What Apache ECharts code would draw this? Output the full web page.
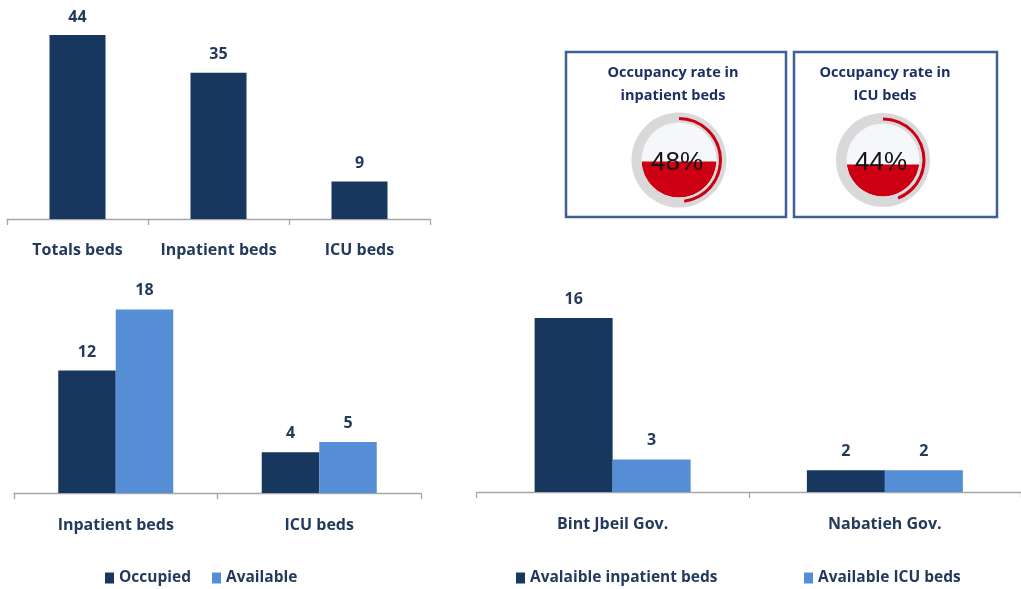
<!DOCTYPE html>
<html>
<head>
<meta charset="utf-8">
<script src="https://cdn.jsdelivr.net/npm/echarts@6/dist/echarts.min.js"></script>
<style>
html,body{margin:0;padding:0;background:#fff;}
#c{width:1021px;height:589px;}
</style>
</head>
<body>
<div id="c"></div>
<script>
// ---- data ----
var totalCategories = ['Totals beds', 'Inpatient beds', 'ICU beds'];
var totalValues = [44, 35, 9];

var statusCategories = ['Inpatient beds', 'ICU beds'];
var occupiedValues = [12, 4];
var availableValues = [18, 5];

var govCategories = ['Bint Jbeil Gov.', 'Nabatieh Gov.'];
var availInpatientValues = [16, 2];
var availIcuValues = [3, 2];

var gaugeTitles = ['Occupancy rate in\ninpatient beds', 'Occupancy rate in\nICU beds'];
var occupancyRates = [48, 44];

// ---- styles ----
var DARK = '#17375e', LIGHT = '#558ed5', RED = '#cc0012', RING = '#d9d9d9';
var FONT = '"Open Sans", Lato, sans-serif';
var TXT = '#233a5c';

var chart = echarts.init(document.getElementById('c'));

function catAxis(idx, data, margin) {
  return {
    type: 'category', gridIndex: idx, data: data,
    axisLine: {show: true, lineStyle: {color: '#a6a6a6', width: 1.3}},
    axisTick: {show: true, length: 6, lineStyle: {color: '#a6a6a6', width: 1.3}},
    axisLabel: {interval: 0, hideOverlap: false, margin: margin, color: TXT, fontFamily: FONT, fontWeight: 'bold', fontSize: 16},
    splitLine: {show: false}
  };
}
function valAxis(idx, max) {
  return {type: 'value', gridIndex: idx, min: 0, max: max, show: false, splitLine: {show: false}};
}
function fillAxis(idx) {
  return {type: 'value', gridIndex: idx, min: -1, max: 1, show: false};
}
function lbl(d) {
  return {show: true, position: 'top', distance: d, color: TXT, fontFamily: FONT, fontWeight: 'bold', fontSize: 16};
}

function renderFill(params, api) {
  var f = api.value(0) / 100;
  var yl = -1 + 2 * f;
  var s = Math.asin(yl);
  var bg = [], seg = [];
  var n = 90, i, t;
  for (i = 0; i <= n; i++) {
    t = 2 * Math.PI * i / n;
    bg.push(api.coord([Math.cos(t), Math.sin(t)]));
  }
  var t0 = Math.PI - s, t1 = 2 * Math.PI + s;
  for (i = 0; i <= n; i++) {
    t = t0 + (t1 - t0) * i / n;
    seg.push(api.coord([Math.cos(t), Math.sin(t)]));
  }
  return {
    type: 'group',
    children: [
      {type: 'polygon', shape: {points: bg}, style: {fill: '#f6f7fa'}},
      {type: 'polygon', shape: {points: seg}, style: {fill: RED}}
    ]
  };
}

var gaugeCenters = [[679, 160], [883, 160]];
var ringR = [47.5, 47];
var innerR = [37.5, 36.5];

function ringGauge(i) {
  return {
    type: 'gauge', name: 'ring' + i, z: 3,
    center: gaugeCenters[i], radius: ringR[i],
    startAngle: 90, endAngle: -270, min: 0, max: 100,
    axisLine: {lineStyle: {width: ringR[i] - innerR[i], color: [[1, RING]]}},
    pointer: {show: false}, splitLine: {show: false}, axisTick: {show: false}, axisLabel: {show: false},
    progress: {show: false}, title: {show: false},
    detail: {show: true, offsetCenter: [-2, 3], formatter: '{value}%', fontSize: 26,
      fontWeight: 'normal', color: '#141414', fontFamily: '"Liberation Sans", Arial, sans-serif'},
    data: [{value: occupancyRates[i]}]
  };
}
function arcGauge(i) {
  return {
    type: 'gauge', name: 'arc' + i, z: 4,
    center: gaugeCenters[i], radius: ringR[i] - 4.5,
    startAngle: 90, endAngle: -270, min: 0, max: 100,
    axisLine: {show: false, lineStyle: {width: 3}},
    progress: {show: true, width: 3, itemStyle: {color: RED}},
    pointer: {show: false}, splitLine: {show: false}, axisTick: {show: false}, axisLabel: {show: false},
    title: {show: false}, detail: {show: false},
    data: [{value: occupancyRates[i]}]
  };
}

var titleStyle = {color: '#1b2f62', fontFamily: FONT, fontWeight: 'bold', fontSize: 14.5, lineHeight: 23};
var legendText = {color: TXT, fontFamily: FONT, fontWeight: 'bold', fontSize: 15.5};
function legend(name, left) {
  return {data: [name], left: left, top: 570, padding: 0, itemWidth: 9, itemHeight: 11,
    icon: 'rect', textStyle: legendText};
}

var option = {
  backgroundColor: '#fff',
  animation: false,
  title: [
    {text: gaugeTitles[0], left: 673, top: 61, padding: 0, textAlign: 'center', textStyle: titleStyle},
    {text: gaugeTitles[1], left: 885, top: 61, padding: 0, textAlign: 'center', textStyle: titleStyle}
  ],
  legend: [
    legend('Occupied', 105), legend('Available', 212),
    legend('Avalaible inpatient beds', 516), legend('Available ICU beds', 804)
  ],
  grid: [
    {left: 7, top: 10, width: 423, height: 209},
    {left: 14, top: 289, width: 407, height: 204},
    {left: 476.5, top: 274.5, width: 550, height: 217.5},
    {left: gaugeCenters[0][0] - innerR[0], top: gaugeCenters[0][1] - innerR[0], width: 2 * innerR[0], height: 2 * innerR[0]},
    {left: gaugeCenters[1][0] - innerR[1], top: gaugeCenters[1][1] - innerR[1], width: 2 * innerR[1], height: 2 * innerR[1]}
  ],
  xAxis: [catAxis(0, totalCategories, 23.5), catAxis(1, statusCategories, 24.5), catAxis(2, govCategories, 24.5), fillAxis(3), fillAxis(4)],
  yAxis: [valAxis(0, 50), valAxis(1, 20), valAxis(2, 20), fillAxis(3), fillAxis(4)],
  graphic: [
    {type: 'rect', shape: {x: 566, y: 52, width: 220, height: 165}, style: {fill: 'none', stroke: '#3d5f94', lineWidth: 2.5}, z: 0},
    {type: 'rect', shape: {x: 794, y: 52, width: 203, height: 165}, style: {fill: 'none', stroke: '#3d5f94', lineWidth: 2.5}, z: 0}
  ],
  series: [
    {type: 'bar', name: 'Totals', xAxisIndex: 0, yAxisIndex: 0, data: totalValues, barWidth: 56,
      itemStyle: {color: DARK}, label: lbl(10)},
    {type: 'bar', name: 'Occupied', xAxisIndex: 1, yAxisIndex: 1, data: occupiedValues, barWidth: 57.5, barGap: '0%',
      itemStyle: {color: DARK}, label: lbl(10.5)},
    {type: 'bar', name: 'Available', xAxisIndex: 1, yAxisIndex: 1, data: availableValues, barWidth: 57.5, barGap: '0%',
      itemStyle: {color: LIGHT}, label: lbl(10.5)},
    {type: 'bar', name: 'Avalaible inpatient beds', xAxisIndex: 2, yAxisIndex: 2, data: availInpatientValues, barWidth: 78, barGap: '0%',
      itemStyle: {color: DARK}, label: lbl(11)},
    {type: 'bar', name: 'Available ICU beds', xAxisIndex: 2, yAxisIndex: 2, data: availIcuValues, barWidth: 78, barGap: '0%',
      itemStyle: {color: LIGHT}, label: lbl(11)},
    {type: 'custom', name: 'fill0', xAxisIndex: 3, yAxisIndex: 3, z: 1, data: [[occupancyRates[0]]], renderItem: renderFill, clip: false},
    {type: 'custom', name: 'fill1', xAxisIndex: 4, yAxisIndex: 4, z: 1, data: [[occupancyRates[1]]], renderItem: renderFill, clip: false},
    ringGauge(0), arcGauge(0), ringGauge(1), arcGauge(1)
  ]
};
chart.setOption(option);
</script>
</body>
</html>
